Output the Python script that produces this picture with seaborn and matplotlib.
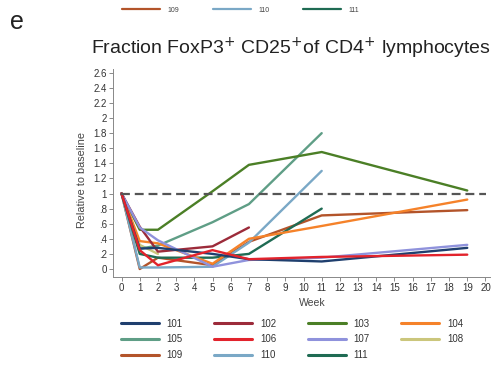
import matplotlib
matplotlib.use("Agg")
import matplotlib.pyplot as plt
from matplotlib.lines import Line2D
import numpy as np
import pandas as pd
import seaborn as sns

# Per-patient Treg fraction relative to baseline, by week
weeks_101 = [0, 1, 2, 5, 7, 11, 19]
vals_101 = [1.0, 0.27, 0.28, 0.20, 0.13, 0.10, 0.28]
weeks_102 = [0, 1, 2, 5, 7]
vals_102 = [1.0, 0.56, 0.23, 0.30, 0.55]
weeks_103 = [0, 1, 2, 5, 7, 11, 19]
vals_103 = [1.0, 0.52, 0.52, 1.03, 1.38, 1.55, 1.04]
weeks_104 = [0, 1, 2, 5, 7, 11, 19]
vals_104 = [1.0, 0.37, 0.34, 0.07, 0.40, 0.57, 0.92]
weeks_105 = [0, 1, 2, 5, 7, 11]
vals_105 = [1.0, 0.27, 0.31, 0.62, 0.86, 1.80]
weeks_106 = [0, 1, 2, 5, 7, 11, 19]
vals_106 = [1.0, 0.25, 0.05, 0.25, 0.13, 0.16, 0.19]
weeks_107 = [0, 1, 2, 5, 7, 11, 19]
vals_107 = [1.0, 0.55, 0.38, 0.03, 0.12, 0.15, 0.32]
weeks_108 = [0, 1, 2]
vals_108 = [1.0, 0.32, 0.20]
weeks_109 = [0, 1, 2, 5, 7, 11, 19]
vals_109 = [1.0, 0.0, 0.15, 0.05, 0.36, 0.71, 0.78]
weeks_110 = [0, 1, 2, 5, 7, 11]
vals_110 = [1.0, 0.02, 0.02, 0.03, 0.35, 1.30]
weeks_111 = [0, 1, 2, 5, 7, 11]
vals_111 = [1.0, 0.20, 0.15, 0.15, 0.20, 0.80]

patients = ["101", "102", "103", "104", "105", "106",
            "107", "108", "109", "110", "111"]
series = {
    "101": (weeks_101, vals_101), "102": (weeks_102, vals_102),
    "103": (weeks_103, vals_103), "104": (weeks_104, vals_104),
    "105": (weeks_105, vals_105), "106": (weeks_106, vals_106),
    "107": (weeks_107, vals_107), "108": (weeks_108, vals_108),
    "109": (weeks_109, vals_109), "110": (weeks_110, vals_110),
    "111": (weeks_111, vals_111),
}
colors = {
    "101": "#1f3f6e", "102": "#9c2b3a", "103": "#4b7f26", "104": "#f5822a",
    "105": "#5f9e86", "106": "#e2232c", "107": "#8f92dc", "108": "#cbc67c",
    "109": "#b3542a", "110": "#7aa8c6", "111": "#1f6b53",
}

y_ticks = [0, 0.2, 0.4, 0.6, 0.8, 1, 1.2, 1.4, 1.6, 1.8, 2, 2.2, 2.4, 2.6]
y_ticklabels = ["0", ".2", ".4", ".6", ".8", "1", "1.2", "1.4", "1.6",
                "1.8", "2", "2.2", "2.4", "2.6"]
x_ticks = list(range(0, 21))

rows = []
for p in patients:
    w, v = series[p]
    for wi, vi in zip(w, v):
        rows.append({"Week": wi, "Value": vi, "Patient": p})
df = pd.DataFrame(rows)

sns.set_theme(style="ticks")
plt.rcParams["font.family"] = ["Liberation Sans", "DejaVu Sans"]

fig = plt.figure(figsize=(4.94, 3.65), dpi=100)
ax = fig.add_axes([113 / 494, 88 / 365, 377 / 494, 208 / 365])

draw_order = ["108", "109", "110", "105", "111", "103", "104", "102",
              "107", "101", "106"]
for p in draw_order:
    sub = df[df["Patient"] == p]
    sns.lineplot(data=sub, x="Week", y="Value", color=colors[p],
                 linewidth=1.7, sort=False, estimator=None, ax=ax,
                 legend=False)

ax.axhline(1.0, xmin=0.02, xmax=0.99, color="#555555", linewidth=1.6,
           linestyle=(0, (4, 2.2)), zorder=5)

ax.set_xlim(-0.47, 20.25)
ax.set_ylim(-0.106, 2.65)
ax.set_xticks(x_ticks)
ax.set_xticklabels([str(t) for t in x_ticks])
ax.set_yticks(y_ticks)
ax.set_yticklabels(y_ticklabels)
ax.tick_params(axis="both", labelsize=7, length=3, width=0.6,
               color="#777777", labelcolor="#333333", pad=1.5)
for s in ["top", "right"]:
    ax.spines[s].set_visible(False)
for s in ["left", "bottom"]:
    ax.spines[s].set_color("#888888")
    ax.spines[s].set_linewidth(0.7)
ax.set_xlabel("Week", fontsize=7.5, color="#444444")
ax.set_ylabel("Relative to baseline", fontsize=7.8, color="#444444")
ax.xaxis.set_label_coords(0.528, -0.103)
ax.yaxis.set_label_coords(-0.068, 0.466)

fig.text(0.588, 1 - 48 / 365,
         r"Fraction FoxP3$^{+}$ CD25$^{+}$of CD4$^{+}$ lymphocytes",
         ha="center", va="center", fontsize=14, color="#222222")
fig.text(0.02, 1 - 22 / 365, "e", ha="left", va="center", fontsize=18,
         color="#222222")

# Legend laid out row by row: 4 columns, filled column-wise by matplotlib
ncol = 4
nrow = 3
legend_order = [patients[r * ncol + c] for c in range(ncol) for r in range(nrow)
                if r * ncol + c < len(patients)]
handles = [Line2D([0], [0], color=colors[p], linewidth=2.2) for p in legend_order]
fig.legend(handles, legend_order, ncol=ncol, loc="upper left",
           bbox_to_anchor=(112 / 494, 1 - 310 / 365), frameon=False,
           fontsize=7, handlelength=3.9, handletextpad=0.8,
           columnspacing=3.25, labelspacing=0.58, labelcolor="#333333")

top_p = ["109", "110", "111"]
top_handles = [Line2D([0], [0], color=colors[p], linewidth=1.6) for p in top_p]
fig.legend(top_handles, top_p, ncol=3, loc="center left",
           bbox_to_anchor=(122 / 494, 1 - 10 / 365), frameon=False,
           fontsize=5, handlelength=5.5, handletextpad=1.0,
           columnspacing=4.9, labelcolor="#444444", borderpad=0,
           borderaxespad=0)

fig.savefig("out.png", dpi=100)
